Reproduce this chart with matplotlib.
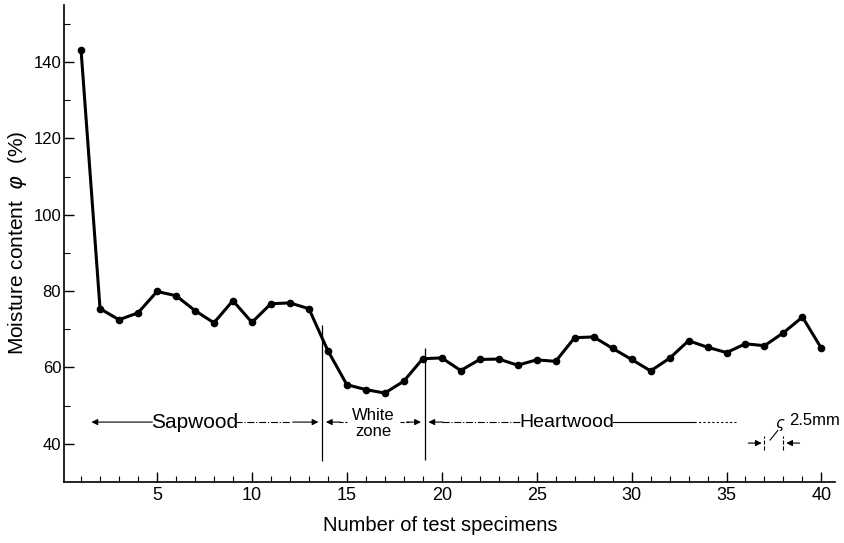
import matplotlib.pyplot as plt
import numpy as np

specimen = np.arange(1, 41)
moisture = [143.1, 75.4, 72.5, 74.3, 79.9, 78.8, 74.9, 71.7, 77.5, 71.8,
            76.7, 76.9, 75.4, 64.4, 55.5, 54.2, 53.3, 56.4, 62.3, 62.5,
            59.2, 62.1, 62.2, 60.6, 62.0, 61.6, 67.8, 68.0, 65.0, 62.1,
            59.1, 62.4, 67.0, 65.3, 63.9, 66.2, 65.7, 69.1, 73.2, 65.0]

# zone boundaries (specimen number) and annotation level
bound_sap = 13.7
bound_white = 19.1
zone_y = 45.7

plt.rcParams['font.family'] = ['Liberation Sans', 'DejaVu Sans']

fig = plt.figure(figsize=(8.44, 5.43), dpi=100)
ax = fig.add_axes([0.0758, 0.1123, 0.9132, 0.879])

ax.plot(specimen, moisture, 'k-', lw=2.2, marker='o', ms=4.5)

# boundary lines
ax.vlines(bound_sap, 35.4, 71.2, color='k', lw=0.9)
ax.vlines(bound_white, 35.7, 65.0, color='k', lw=0.9)

# zone labels with arrows
ap = dict(arrowstyle='-|>', color='k', lw=0.8, mutation_scale=9)
ax.annotate('', xy=(1.4, zone_y), xytext=(4.9, zone_y), arrowprops=ap)
ax.plot([9.1, 12.0], [zone_y, zone_y], 'k-.', lw=0.8)
ax.annotate('', xy=(bound_sap - 0.05, zone_y), xytext=(12.0, zone_y), arrowprops=ap)
ax.text(7.0, zone_y, 'Sapwood', ha='center', va='center', fontsize=15)

ax.annotate('', xy=(bound_sap + 0.05, zone_y), xytext=(14.8, zone_y), arrowprops=ap)
ax.plot([14.6, 15.0], [zone_y, zone_y], 'k--', lw=0.8)
ax.plot([17.8, 18.3], [zone_y, zone_y], 'k--', lw=0.8)
ax.annotate('', xy=(bound_white - 0.05, zone_y), xytext=(18.0, zone_y), arrowprops=ap)
ax.text(16.4, 47.4, 'White', ha='center', va='center', fontsize=12)
ax.text(16.4, 43.2, 'zone', ha='center', va='center', fontsize=12)

ax.annotate('', xy=(bound_white + 0.05, zone_y), xytext=(20.2, zone_y), arrowprops=ap)
ax.plot([20.0, 24.2], [zone_y, zone_y], 'k-.', lw=0.8)
ax.text(26.6, zone_y, 'Heartwood', ha='center', va='center', fontsize=14)
ax.plot([29.0, 33.3], [zone_y, zone_y], 'k-', lw=0.8)
ax.plot([33.3, 35.5], [zone_y, zone_y], 'k--', lw=0.8, dashes=(2, 2))

# 2.5 mm scale mark
ax.annotate('', xy=(37.0, 40.2), xytext=(36.0, 40.2), arrowprops=ap)
ax.annotate('', xy=(38.0, 40.2), xytext=(39.0, 40.2), arrowprops=ap)
ax.vlines([37.0, 38.0], 38.5, 42.0, color='k', lw=0.8, linestyles='--')
ax.plot([37.3, 37.7], [41.0, 43.5], 'k-', lw=0.8)
ax.text(37.85, 45.0, r'$\varsigma$', ha='center', va='center', fontsize=11)
ax.text(38.3, 46.0, '2.5mm', ha='left', va='center', fontsize=12)

ax.set_xlim(0.1, 40.7)
ax.set_ylim(30, 155)
ax.set_xticks(np.arange(5, 41, 5))
ax.set_xticks(np.arange(1, 41, 1), minor=True)
ax.set_yticks(np.arange(40, 141, 20))
ax.set_yticks(np.arange(40, 151, 10), minor=True)
ax.tick_params(direction='in', labelsize=13, width=1, length=7)
ax.tick_params(axis='y', labelsize=12, pad=2)
ax.tick_params(which='minor', direction='in', length=4, width=0.8)
for s in ['top', 'right']:
    ax.spines[s].set_visible(False)
for s in ['left', 'bottom']:
    ax.spines[s].set_linewidth(1.2)

ax.set_xlabel('Number of test specimens', fontsize=14.5)
ax.xaxis.set_label_coords(0.488, -0.072)
ax.set_ylabel(r'Moisture content  $\varphi$  (%)', fontsize=15)
ax.yaxis.set_label_coords(-0.045, 0.501)

fig.savefig('out.png', dpi=100)
